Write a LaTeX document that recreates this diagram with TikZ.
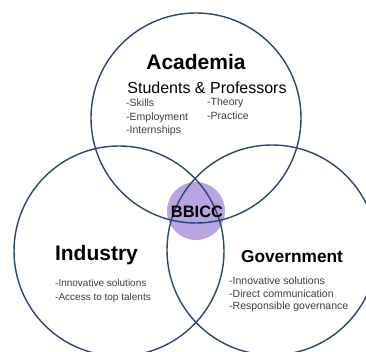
\documentclass[tikz,border=0pt]{standalone}
\usepackage{fontspec}
\setmainfont{Liberation Sans}
\usepackage{xcolor}
\usetikzlibrary{positioning}
\definecolor{vnavy}{HTML}{2C4577}
\definecolor{vlilac}{HTML}{B9A4E3}
\definecolor{vgray}{HTML}{3C3C3C}

\begin{document}
\begin{tikzpicture}[x=1pt,y=-1pt,
  ring/.style={draw=vnavy, line width=1.4pt, circle, minimum size=210pt, inner sep=0pt},
  hub/.style={circle, fill=vlilac, minimum size=58pt, inner sep=0pt},
  title/.style={font=\bfseries\fontsize{#1}{#1}\selectfont, text=black, inner sep=0pt},
  items/.style={font=\fontsize{10.5}{#1}\selectfont, text=vgray, align=left, anchor=north west, inner sep=0pt}]
\useasboundingbox (0,0) rectangle (366,352);
\clip (0,0) rectangle (366,352);
% centre
\node[hub] (bbicc) at (196,211) {};
% the three sectors
\node[ring] (aca) at (196,118) {};
\node[ring] (ind) at (119,251) {};
\node[ring] (gov) at (272,250) {};
\node[title=16.5] (hubname) at (197,212) {BBICC};
% academia
\node[title=21] (acaname) at (196,62) {Academia};
\node[font=\fontsize{16}{16}\selectfont, inner sep=0pt] (acasub) at (207,88) {Students \& Professors};
\node[items=13.5] (acaleft) at (126,99) {-Skills\\-Employment\\-Internships};
\node[items=13.5] (acaright) at (207,98) {-Theory\\-Practice};
% industry
\node[title=21] (indname) at (96.5,255) {Industry};
\node[items=14, font=\fontsize{10}{14}\selectfont] (indlist) at (55,279) {-Innovative solutions\\-Access to top talents};
% government
\node[title=17.3] (govname) at (292,257) {Government};
\node[items=12.5] (govlist) at (229,277) {-Innovative solutions\\-Direct communication\\-Responsible governance};
\end{tikzpicture}
\end{document}
